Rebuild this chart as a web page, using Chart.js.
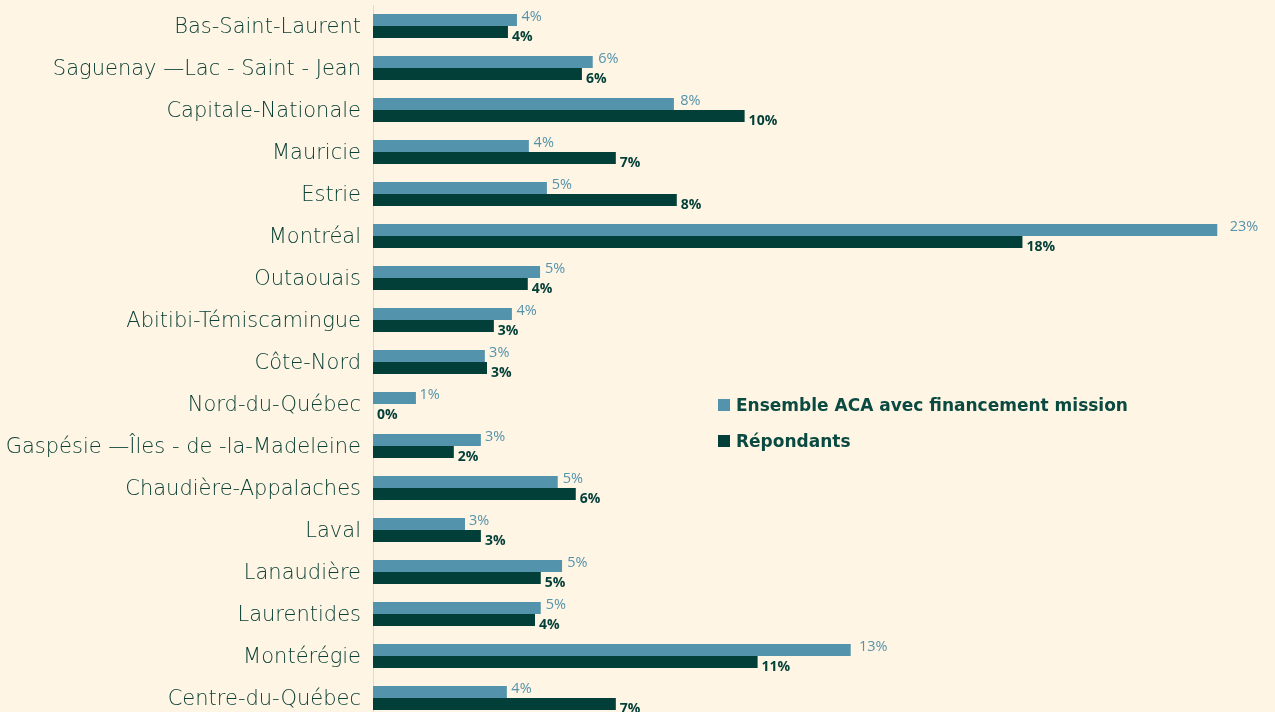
<!DOCTYPE html>
<html>
<head>
<meta charset="utf-8">
<script src="https://cdn.jsdelivr.net/npm/chart.js@4"></script>
<style>
  html, body { margin: 0; padding: 0; background: #FFF5E4; overflow: hidden; }
  #wrap { position: relative; width: 1275px; height: 722px; }
  .legend { position: absolute; left: 718px; font-family: "DejaVu Sans", sans-serif; font-weight: 700;
            font-size: 17px; color: #0B4A40; display: flex; align-items: center; }
  .legend span.box { display: inline-block; width: 12px; height: 12px; margin-right: 6px; }
</style>
</head>
<body>
<div id="wrap">
  <canvas id="chart"></canvas>
  <div class="legend" style="top:395px"><span class="box" style="background:#5493AC"></span>Ensemble ACA avec financement mission</div>
  <div class="legend" style="top:431px"><span class="box" style="background:#023F38"></span>Répondants</div>
</div>
<script>
// Regions and shares (%)
const regions = [
  'Bas-Saint-Laurent', 'Saguenay —Lac - Saint - Jean', 'Capitale-Nationale', 'Mauricie',
  'Estrie', 'Montréal', 'Outaouais', 'Abitibi-Témiscamingue', 'Côte-Nord',
  'Nord-du-Québec', 'Gaspésie —Îles - de -la-Madeleine', 'Chaudière-Appalaches',
  'Laval', 'Lanaudière', 'Laurentides', 'Montérégie', 'Centre-du-Québec'
];
const ensembleACA = [3.99, 6.09, 8.34, 4.32, 4.82, 23.4, 4.63, 3.85, 3.10, 1.19, 2.99, 5.12, 2.55, 5.24, 4.65, 13.24, 3.71];
const repondants  = [3.74, 5.79, 10.3, 6.73, 8.42, 18.0, 4.29, 3.35, 3.16, 0.0, 2.24, 5.62, 2.99, 4.65, 4.49, 10.66, 6.73];

const C_ACA = '#5493AC';
const C_REP = '#023F38';

// draw the % labels next to each bar
const barLabels = {
  id: 'barLabels',
  afterDatasetsDraw(chart) {
    const ctx = chart.ctx;
    ctx.save();
    ctx.textBaseline = 'middle';
    ctx.textAlign = 'left';
    chart.data.datasets.forEach((ds, i) => {
      const meta = chart.getDatasetMeta(i);
      meta.data.forEach((bar, j) => {
        const v = ds.data[j];
        const txt = Math.round(v) + '%';
        if (i === 0) {
          ctx.font = '400 14.5px "Open Sans", sans-serif';
          ctx.fillStyle = C_ACA;
          ctx.fillText(txt, bar.x + 3 + v * 0.4, bar.y - 3);
        } else {
          ctx.font = '700 14px "Open Sans", sans-serif';
          ctx.fillStyle = C_REP;
          ctx.fillText(txt, bar.x + 4, bar.y + 5);
        }
      });
    });
    ctx.restore();
  }
};

new Chart(document.getElementById('chart'), {
  type: 'bar',
  data: {
    labels: regions,
    datasets: [
      { label: 'Ensemble ACA avec financement mission', data: ensembleACA, backgroundColor: C_ACA },
      { label: 'Répondants', data: repondants, backgroundColor: C_REP }
    ]
  },
  options: {
    indexAxis: 'y',
    responsive: true,
    maintainAspectRatio: false,
    animation: false,
    categoryPercentage: 0.571,
    barPercentage: 1,
    layout: { padding: { top: 5, bottom: 3, right: 0, left: 0 } },
    scales: {
      x: { display: false, min: 0, max: 25 },
      y: {
        grid: { display: false },
        border: { display: true, color: '#DADADA', width: 1 },
        ticks: {
          color: '#0A4036',
          padding: 4,
          labelOffset: 2,
          font: { family: '"DejaVu Sans", sans-serif', size: 21, weight: 200 }
        },
        afterFit(scale) {
          scale.width = 373;
          scale.paddingTop = 0;
          scale.paddingBottom = 0;
        }
      }
    },
    plugins: {
      legend: { display: false },
      tooltip: { enabled: false }
    }
  },
  plugins: [barLabels]
});
</script>
</body>
</html>
